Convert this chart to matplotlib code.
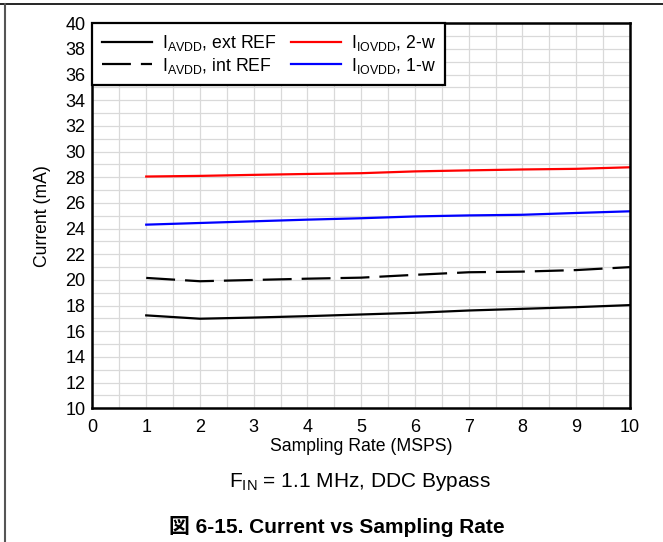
import numpy as np
import matplotlib
matplotlib.use("Agg")
import matplotlib.pyplot as plt
from matplotlib.lines import Line2D
from matplotlib.ticker import MultipleLocator

# --- data ---
rate = [1, 2, 3, 4, 5, 6, 7, 8, 9, 10]  # MSPS
i_avdd_ext = [17.24, 16.98, 17.07, 17.18, 17.31, 17.44, 17.62, 17.75, 17.88, 18.04]
i_avdd_int = [20.16, 19.90, 20.00, 20.10, 20.18, 20.40, 20.60, 20.65, 20.77, 21.00]
i_iovdd_2w = [28.06, 28.11, 28.19, 28.26, 28.32, 28.46, 28.54, 28.61, 28.66, 28.78]
i_iovdd_1w = [24.31, 24.44, 24.57, 24.70, 24.81, 24.95, 25.03, 25.08, 25.22, 25.35]

x_ticks = list(range(0, 11))
y_ticks = list(range(10, 41, 2))

plt.rcParams['font.family'] = ['Liberation Sans', 'Noto Sans CJK JP', 'DejaVu Sans']
plt.rcParams['mathtext.default'] = 'regular'

fig = plt.figure(figsize=(6.63, 5.42), dpi=100)
ax = fig.add_axes([0.1395, 0.2467, 0.8105, 0.7103])

ax.plot(rate, i_avdd_ext, color='black', lw=1.6, label=r'I$_{AVDD}$, ext REF')
ax.plot(rate, i_avdd_int, color='black', lw=1.6, dashes=(13, 4.5), label=r'I$_{AVDD}$, int REF')
ax.plot(rate, i_iovdd_2w, color='#ff0000', lw=1.6, label=r'I$_{IOVDD}$, 2-w')
ax.plot(rate, i_iovdd_1w, color='#0000ff', lw=1.6, label=r'I$_{IOVDD}$, 1-w')

ax.set_xlim(0, 10)
ax.set_ylim(10, 40)
ax.set_xticks(x_ticks)
ax.set_yticks(y_ticks)
ax.xaxis.set_minor_locator(MultipleLocator(0.5))
ax.yaxis.set_minor_locator(MultipleLocator(1))
ax.grid(True, which='both', color='#d9d9d9', lw=0.9)
ax.set_axisbelow(True)
ax.tick_params(which='both', length=0, labelsize=13)
ax.tick_params(axis='x', pad=8)
ax.tick_params(axis='y', pad=5)
for s in ax.spines.values():
    s.set_linewidth(1.8)

ax.set_xlabel('Sampling Rate (MSPS)', fontsize=12.7, va='center')
ax.xaxis.set_label_coords(0.5, -0.1005)
ax.set_ylabel('Current (mA)', fontsize=12.7, va='center')
ax.yaxis.set_label_coords(-0.0935, 0.5)

leg = ax.legend(ncol=2, loc='upper left', bbox_to_anchor=(0, 1), borderaxespad=0,
                fancybox=False, framealpha=1, edgecolor='black', fontsize=12.7,
                handlelength=2.85, columnspacing=0.8, labelspacing=0.15,
                borderpad=0.55, handletextpad=0.55)
leg.get_frame().set_linewidth(1.6)

fig.text(0.543, 0.1107, r'F$_{IN}$ = 1.1 MHz, DDC Bypass', ha='center', va='center', fontsize=15)
fig.text(0.508, 0.0295, '図 6-15. Current vs Sampling Rate', ha='center', va='center',
         fontsize=15, fontweight='bold')

# page frame lines (top and left)
fig.add_artist(Line2D([0, 1], [0.992, 0.992], transform=fig.transFigure, color='black', lw=1.2))
fig.add_artist(Line2D([0.0075, 0.0075], [0, 0.992], transform=fig.transFigure, color='#555555', lw=1.5))

fig.savefig('out.png', dpi=100)
